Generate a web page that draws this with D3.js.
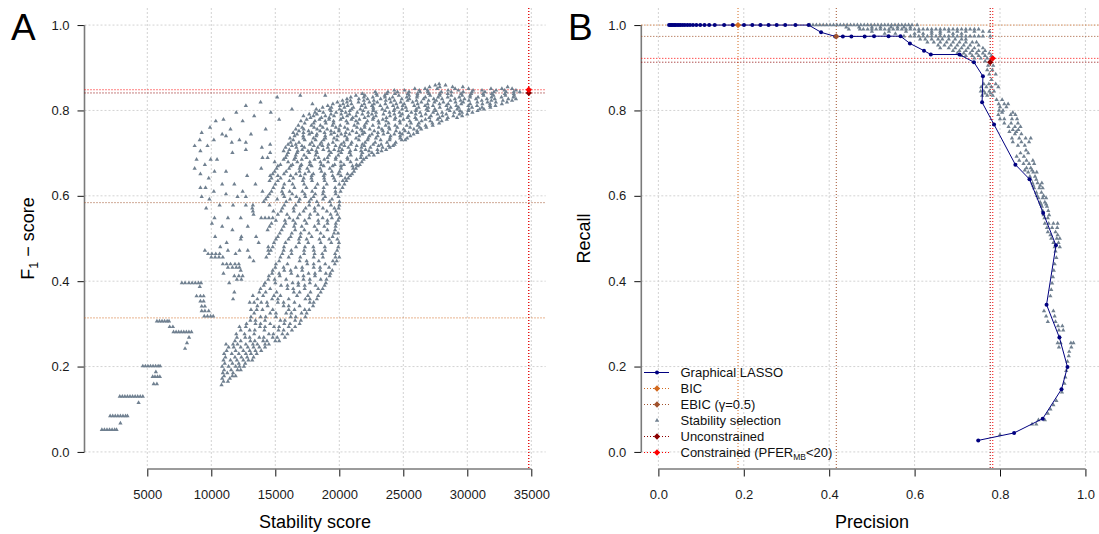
<!DOCTYPE html>
<html>
<head>
<meta charset="utf-8">
<style>
  body { margin: 0; background: #fff; }
  text { font-family: "Liberation Sans", Arial, Helvetica, sans-serif; }
</style>
</head>
<body>
<script src="https://cdn.jsdelivr.net/npm/d3@7"></script>
<script>

    var width = 1099,
        height = 534;

    // ---------- data ----------
    var scoreTicks = [5000, 10000, 15000, 20000, 25000, 30000, 35000];
    var unitTicks = [0, 0.2, 0.4, 0.6, 0.8, 1.0];

    // graphical lasso path (precision / recall)
    var lassoPrecision = [0.025, 0.028, 0.031, 0.034, 0.037, 0.040, 0.044, 0.048, 0.052, 0.057,
        0.062, 0.068, 0.074, 0.081, 0.089, 0.098, 0.108, 0.119, 0.132, 0.154,
        0.174, 0.2005, 0.220, 0.239, 0.258, 0.277, 0.297, 0.321, 0.352,
        0.381, 0.414, 0.432, 0.452, 0.483, 0.505, 0.539, 0.567,
        0.589, 0.622, 0.638, 0.705, 0.739, 0.760, 0.758, 0.786,
        0.836, 0.869, 0.901, 0.931, 0.909, 0.939, 0.958, 0.944,
        0.900, 0.833, 0.749];
    var lassoRecall = [1, 1, 1, 1, 1, 1, 1, 1, 1, 1,
        1, 1, 1, 1, 1, 1, 1, 1, 1, 1,
        1, 1, 1, 1, 1, 1, 1, 1, 1,
        0.983, 0.9735, 0.9735, 0.9735, 0.9735, 0.974, 0.974, 0.974,
        0.957, 0.940, 0.931, 0.931, 0.913, 0.880, 0.819, 0.767,
        0.673, 0.639, 0.560, 0.484, 0.345, 0.268, 0.199, 0.147,
        0.078, 0.0445, 0.027];

    // calibrated models: BIC, EBIC, unconstrained, constrained
    var calibNames = ["BIC", "EBIC", "Unconstrained", "Constrained"];
    var calibPrecision = [0.1865, 0.4166, 0.777, 0.783];
    var calibRecall = [1.0, 0.9735, 0.913, 0.922];
    var calibF1 = [0.314, 0.584, 0.841, 0.8485];
    var calibScore = [null, null, 34800, 34800];

    // stability selection models, panel A: [F1, [stability scores]]
    var stabilityA = [
        [0.052, [1450, 1650, 1850, 2050, 2250, 2450, 2600]],
        [0.067, [2900]],
        [0.084, [2100, 2300, 2500, 2700, 2900, 3100, 3300, 3450]],
        [0.115, [4320]],
        [0.130, [2850, 3050, 3250, 3450, 3650, 3850, 4050, 4250, 4450, 4650]],
        [0.157, [10800]],
        [0.159, [5500, 5750]],
        [0.165, [10950, 11300]],
        [0.172, [10850, 11450]],
        [0.176, [5420, 5600, 5800, 5980]],
        [0.178, [11000, 11650, 11900]],
        [0.185, [10900, 11250, 11700]],
        [0.187, [5670]],
        [0.192, [11000, 11550, 12050, 12300]],
        [0.200, [10850, 11350, 11900, 12200, 12550]],
        [0.201, [4650, 4850, 5050, 5250, 5450, 5650, 5850, 6000]],
        [0.207, [11050, 11650, 12150, 12650]],
        [0.215, [10950, 11500, 12000, 12500, 12900, 13200]],
        [0.222, [11100, 11850, 12350, 12800, 13300]],
        [0.230, [11000, 11600, 12150, 12700, 13100, 13550]],
        [0.237, [11200, 11900, 12500, 13000, 13450, 13900]],
        [0.242, [7950]],
        [0.245, [11350, 11750, 12300, 12850, 13300, 13750, 14200]],
        [0.252, [11150, 11700, 12050, 12700, 13250, 13600, 14200, 14500]],
        [0.255, [8100]],
        [0.260, [11850, 12300, 13050, 13400, 14050, 14350, 15000, 15300]],
        [0.268, [8260, 12000, 12650, 13000, 13750, 14100, 14800, 15150, 15750]],
        [0.276, [11950, 12600, 13350, 14500, 14850, 15550, 15950]],
        [0.281, [7050, 7250, 7450, 7650, 7850, 8050, 8250, 8450]],
        [0.285, [12300, 13000, 13400, 14150, 15250, 15650, 16300]],
        [0.293, [6750, 7000, 12200, 12700, 13800, 14200, 14900, 15300, 16050, 16550]],
        [0.300, [12750, 13450, 13850, 14600, 15700, 16150, 16900]],
        [0.306, [5750, 5950, 6150, 6350, 6550, 6700]],
        [0.308, [13050, 13450, 14200, 15400, 15750, 16550, 17000]],
        [0.316, [13100, 13850, 14250, 15050, 16200, 16600, 17350]],
        [0.318, [9450, 9700, 9950, 10150]],
        [0.325, [13350, 14600, 15050, 15850, 16250, 17050, 17450]],
        [0.330, [9250, 9500, 9800]],
        [0.333, [13100, 13550, 14000, 14800, 16050, 16500, 17300, 17650]],
        [0.341, [9250, 9500]],
        [0.342, [13600, 14400, 15650, 16050, 16900, 17950]],
        [0.350, [13000, 13350, 13900, 14350, 15200, 15650, 16500, 17700, 18000]],
        [0.353, [9150, 9400]],
        [0.358, [11700, 13600, 14750, 15200, 16050, 17350, 17700, 18250]],
        [0.365, [8850, 9150, 9400]],
        [0.366, [13250, 14050, 14900, 15400, 16700, 17550, 18350]],
        [0.374, [11800, 13750, 14250, 15100, 16450, 16900, 17750, 18550]],
        [0.382, [13850, 14600, 15950, 16400, 17300, 18350, 18700]],
        [0.387, [9100]],
        [0.390, [14100, 15450, 15950, 16800, 17300, 18150, 18850]],
        [0.396, [7700, 7950, 8250, 8500, 8750, 9000, 9200, 11400, 14200, 15000, 16350, 16800, 17700, 18950]],
        [0.404, [12000, 12350, 14450, 14950, 15850, 17200, 17700, 18550, 19000]],
        [0.412, [11800, 12150, 12450, 14500, 15350, 16750, 17200, 18100, 19250]],
        [0.418, [10950, 14750, 15300, 16250, 17600, 18100, 18950, 19300]],
        [0.425, [12300, 14800, 15700, 16200, 17100, 18500, 19450]],
        [0.432, [11300, 11650, 11950, 12200, 15000, 15650, 16600, 17100, 18000, 18500, 19200]],
        [0.440, [10900, 11200, 11500, 11850, 12150, 15050, 15950, 17500, 18000, 18900, 19650]],
        [0.447, [13300, 15300, 16900, 17450, 18400, 19500, 19800]],
        [0.456, [10000, 10300, 10600, 10900, 13000, 14300, 15400, 16050, 16950, 18000, 18720, 19700, 20000]],
        [0.464, [9750, 10050, 10350, 10650, 11900, 14500, 15550, 16270, 17250, 18070, 18670, 19670]],
        [0.472, [9500, 11300, 12200, 12850, 14450, 14650, 15650, 16250, 17250, 18010, 18890, 19830]],
        [0.480, [10700, 14450, 14800, 15680, 16620, 17320, 17970, 18870, 19920]],
        [0.490, [11200, 13700, 14900, 15800, 16850, 17570, 18550, 19370, 19970]],
        [0.498, [12300, 15050, 16030, 16850, 17450, 18450, 19210, 19850]],
        [0.504, [10300, 12350, 13500, 15200, 16200, 16960, 17840, 18780, 19480]],
        [0.512, [15350, 16290, 16990, 17640, 18540, 19590, 19900]],
        [0.520, [11650, 14400, 15500, 16550, 17270, 18250, 19070, 19670]],
        [0.528, [10850, 12850, 14550, 15650, 16470, 17070, 18070, 18830, 19710]],
        [0.535, [10050, 14700, 15800, 16560, 17440, 18380, 19080, 19730]],
        [0.542, [15050, 15750, 16400, 17300, 18350, 19070, 19900]],
        [0.548, [10250, 11300, 12300, 13900, 14200, 14500, 14800, 16100, 16750, 17650, 18700, 19420, 20000]],
        [0.556, [13300, 15200, 15920, 16900, 17720, 18320, 19320, 19850]],
        [0.564, [13250, 14850, 15450, 16450, 17210, 18090, 19030, 19730]],
        [0.571, [9600, 13200, 15550, 16430, 17370, 18070, 18720, 19620, 19950]],
        [0.578, [10650, 11700, 12700, 13250, 14550, 15700, 16600, 17650, 18370, 19350, 20000]],
        [0.586, [14100, 15850, 16830, 17650, 18250, 19250, 20010]],
        [0.592, [9850, 14250, 15150, 16150, 16910, 17790, 18730, 19430]],
        [0.598, [9250, 12050, 12700, 14400, 15700, 16640, 17340, 17990, 18890, 19940]],
        [0.604, [11150, 14550, 15600, 16320, 17300, 18120, 18720, 19720]],
        [0.610, [10200, 12450, 14000, 14700, 15520, 16120, 17120, 17880, 18760, 19700, 20100]],
        [0.619, [9150, 9550, 14850, 15610, 16490, 17430, 18130, 18780, 19680, 20250]],
        [0.627, [10850, 11800, 13450, 15000, 15700, 16350, 17250, 18300, 19020, 20000, 20400]],
        [0.635, [14550, 15200, 16100, 17150, 17870, 18850, 19670, 20270, 20550]],
        [0.641, [9800, 14700, 15420, 16400, 17220, 17820, 18820, 19580, 20460, 20700]],
        [0.647, [12800, 14600, 15200, 16200, 16960, 17840, 18780, 19480, 20130, 20850]],
        [0.651, [9150, 14800, 15680, 16620, 17320, 17970, 18870, 19920, 20640, 21000]],
        [0.657, [10250, 11150, 14950, 15850, 16900, 17620, 18600, 19420, 20020, 21150]],
        [0.664, [8700, 13900, 15100, 16080, 16900, 17500, 18500, 19260, 20140, 21080, 21300]],
        [0.670, [15200, 16200, 16960, 17840, 18780, 19480, 20130, 21030, 21450]],
        [0.673, [9500, 15400, 16340, 17040, 17690, 18590, 19640, 20360, 21340, 21600]],
        [0.679, [14950, 16000, 16720, 17700, 18520, 19120, 20120, 20880, 21760]],
        [0.685, [8850, 9950, 10450, 15650, 16470, 17070, 18070, 18830, 19710, 20650, 21350, 21900]],
        [0.689, [14000, 14400, 15800, 16560, 17440, 18380, 19080, 19730, 20630, 21680, 22100]],
        [0.695, [15900, 16600, 17250, 18150, 19200, 19920, 20900, 21720, 22320, 22700]],
        [0.701, [11650, 14600, 16000, 16700, 17650, 18250, 19350, 20150, 20800, 21800, 22550, 23000]],
        [0.705, [9150, 15650, 16750, 17550, 18200, 19200, 19950, 20850, 21700, 22320, 23300]],
        [0.708, [12700, 16100, 17100, 17850, 18750, 19600, 20220, 21270, 22050, 22980, 23660]],
        [0.713, [13950, 15800, 16650, 17270, 18320, 19100, 20030, 20710, 21730, 22430, 23380, 23950]],
        [0.717, [8700, 9700, 16300, 17080, 18010, 18690, 19710, 20410, 21360, 21960, 23060, 23860, 24200]],
        [0.720, [14600, 16000, 16600, 17700, 18500, 19150, 20150, 20900, 21800, 22650, 23270, 24320]],
        [0.725, [11600, 12700, 16200, 16850, 17850, 18600, 19500, 20350, 20970, 22020, 22800, 23730, 24410]],
        [0.731, [9100, 10200, 12200, 16400, 17300, 18150, 18770, 19820, 20600, 21530, 22210, 23230, 23930, 24880, 25150]],
        [0.735, [16150, 17200, 17980, 18910, 19590, 20610, 21310, 22260, 22860, 23960, 24760, 25300]],
        [0.740, [11150, 16500, 17180, 18200, 18900, 19850, 20450, 21550, 22350, 23000, 24000, 24750, 25550]],
        [0.744, [10850, 13100, 16700, 17650, 18250, 19350, 20150, 20800, 21800, 22550, 23450, 24300, 24920, 25800]],
        [0.748, [9250, 16400, 17200, 17850, 18850, 19600, 20500, 21350, 21970, 23020, 23800, 24730, 25410, 26100]],
        [0.752, [16850, 17600, 18500, 19350, 19970, 21020, 21800, 22730, 23410, 24430, 25130, 26080]],
        [0.756, [11500, 14250, 16600, 17220, 18270, 19050, 19980, 20660, 21680, 22380, 23330, 23930, 25030, 25830, 26400]],
        [0.760, [9900, 17100, 18030, 18710, 19730, 20430, 21380, 21980, 23080, 23880, 24530, 25530, 26280, 26800]],
        [0.765, [16800, 17820, 18520, 19470, 20070, 21170, 21970, 22620, 23620, 24370, 25270, 26120, 26740, 27300]],
        [0.770, [17300, 18000, 18950, 19550, 20650, 21450, 22100, 23100, 23850, 24750, 25600, 26220, 27270, 27800]],
        [0.775, [10350, 12450, 17000, 18100, 18900, 19550, 20550, 21300, 22200, 23050, 23670, 24720, 25500, 26430, 27110, 28000]],
        [0.779, [10950, 15300, 17450, 18450, 19200, 20100, 20950, 21570, 22620, 23400, 24330, 25010, 26030, 26730, 27680, 28400]],
        [0.783, [17750, 18600, 19220, 20270, 21050, 21980, 22660, 23680, 24380, 25330, 25930, 27030, 27830, 28480, 29200]],
        [0.787, [13350, 17200, 17980, 18910, 19590, 20610, 21310, 22260, 22860, 23960, 24760, 25410, 26410, 27160, 28060, 28910, 29600]],
        [0.791, [17650, 18250, 19350, 20150, 20800, 21800, 22550, 23450, 24300, 24920, 25970, 26750, 27680, 28360, 29380, 30000]],
        [0.795, [11950, 14650, 18100, 18750, 19750, 20500, 21400, 22250, 22870, 23920, 24700, 25630, 26310, 27330, 28030, 28980, 29580, 30400]],
        [0.799, [18450, 19350, 20200, 20820, 21870, 22650, 23580, 24260, 25280, 25980, 26930, 27530, 28630, 29430, 30080, 30800]],
        [0.803, [16300, 18200, 19250, 20030, 20960, 21640, 22660, 23360, 24310, 24910, 26010, 26810, 27460, 28460, 29210, 30110, 30960, 31300]],
        [0.807, [18700, 19380, 20400, 21100, 22050, 22650, 23750, 24550, 25200, 26200, 26950, 27850, 28700, 29320, 30370, 31150, 31800]],
        [0.811, [12700, 19100, 20050, 20650, 21750, 22550, 23200, 24200, 24950, 25850, 26700, 27320, 28370, 29150, 30080, 30760, 31780, 32200]],
        [0.815, [17900, 19500, 20300, 20950, 21950, 22700, 23600, 24450, 25070, 26120, 26900, 27830, 28510, 29530, 30230, 31180, 31780, 32700]],
        [0.819, [13850, 19850, 20600, 21500, 22350, 22970, 24020, 24800, 25730, 26410, 27430, 28130, 29080, 29680, 30780, 31580, 32230, 33100]],
        [0.823, [20250, 20870, 21920, 22700, 23630, 24310, 25330, 26030, 26980, 27580, 28680, 29480, 30130, 31130, 31880, 32780, 33500]],
        [0.827, [20600, 21530, 22210, 23230, 23930, 24880, 25480, 26580, 27380, 28030, 29030, 29780, 30680, 31530, 32150, 33200, 33800]],
        [0.831, [15150, 20900, 21920, 22620, 23570, 24170, 25270, 26070, 26720, 27720, 28470, 29370, 30220, 30840, 31890, 32670, 33600]],
        [0.835, [16950, 18900, 21300, 22000, 22950, 23550, 24650, 25450, 26100, 27100, 27850, 28750, 29600, 30220, 31270, 32050, 32980, 33660]],
        [0.839, [21800, 22900, 23700, 24350, 25350, 26100, 27000, 27850, 28470, 29520, 30300, 31230, 31910, 32930, 33630]],
        [0.843, [22800, 23800, 24550, 25450, 26300, 26920, 27970, 28750, 29680, 30360, 31380, 32080, 33030, 33630, 34100]],
        [0.847, [24300, 25100, 26250, 26900, 28500, 29300, 30450, 31150, 32250, 32900, 33800]],
        [0.851, [25900, 26700, 27650, 29050, 30100, 31850, 32700, 33500]],
        [0.855, [27050, 27850, 28850, 29650, 33150]],
        [0.859, [27500, 28300]],
        [0.862, [27800]]
    ];

    // stability selection models, panel B: [recall, [precisions]]
    var stabilityB = [
        [1.000, [0.355, 0.362, 0.370, 0.378, 0.386, 0.394, 0.402, 0.410, 0.418, 0.426, 0.434, 0.442, 0.450, 0.458, 0.466, 0.474, 0.482, 0.490, 0.498, 0.506, 0.514, 0.522, 0.530, 0.538, 0.546, 0.554, 0.562, 0.570, 0.578, 0.586, 0.594, 0.606]],
        [0.995, [0.440, 0.470, 0.500, 0.520, 0.545, 0.560, 0.575, 0.590]],
        [0.990, [0.446, 0.472, 0.480, 0.490, 0.500, 0.510, 0.520, 0.530, 0.540, 0.550, 0.560, 0.570, 0.580, 0.590, 0.600, 0.610, 0.620, 0.630, 0.640, 0.650, 0.660, 0.670, 0.680, 0.690, 0.700, 0.710, 0.720, 0.730, 0.740, 0.750]],
        [0.985, [0.500, 0.540, 0.580, 0.610, 0.640, 0.660, 0.680, 0.700, 0.720, 0.740, 0.760, 0.775]],
        [0.980, [0.530, 0.555, 0.600, 0.620, 0.640, 0.660, 0.690, 0.710]],
        [0.974, [0.575, 0.590, 0.600, 0.610, 0.620, 0.630, 0.640, 0.650, 0.660, 0.670, 0.680, 0.690, 0.700, 0.710, 0.720, 0.730, 0.740, 0.750, 0.760, 0.777]],
        [0.967, [0.613, 0.625, 0.640, 0.655, 0.665, 0.680, 0.695, 0.710, 0.720]],
        [0.960, [0.630, 0.645, 0.660, 0.675, 0.690, 0.705, 0.720, 0.735, 0.745]],
        [0.953, [0.655, 0.670, 0.685, 0.700, 0.715, 0.730, 0.750]],
        [0.946, [0.660, 0.680, 0.695, 0.710, 0.725, 0.740, 0.760]],
        [0.940, [0.690, 0.705, 0.720, 0.735, 0.750, 0.765]],
        [0.934, [0.700, 0.715, 0.730, 0.745, 0.760, 0.775]],
        [0.928, [0.710, 0.720, 0.735, 0.750, 0.765, 0.780]],
        [0.922, [0.740, 0.755, 0.770]],
        [0.915, [0.765, 0.777]],
        [0.905, [0.772, 0.784]],
        [0.895, [0.770, 0.782]],
        [0.885, [0.775, 0.790]],
        [0.872, [0.780]],
        [0.862, [0.762, 0.774, 0.790]],
        [0.855, [0.756, 0.768, 0.780, 0.796]],
        [0.845, [0.755, 0.762, 0.775, 0.786]],
        [0.840, [0.765, 0.778]],
        [0.835, [0.758, 0.770, 0.783]],
        [0.825, [0.792, 0.805]],
        [0.815, [0.797, 0.810, 0.819]],
        [0.808, [0.800, 0.815]],
        [0.800, [0.798, 0.807]],
        [0.795, [0.805, 0.830]],
        [0.790, [0.796, 0.825, 0.836]],
        [0.780, [0.800, 0.810, 0.828, 0.840]],
        [0.770, [0.810, 0.826, 0.842]],
        [0.762, [0.820, 0.835, 0.848]],
        [0.755, [0.830, 0.843]],
        [0.750, [0.822, 0.838]],
        [0.745, [0.835, 0.850]],
        [0.735, [0.828, 0.845, 0.860, 0.872]],
        [0.726, [0.830, 0.850, 0.868]],
        [0.718, [0.842, 0.858]],
        [0.707, [0.861]],
        [0.700, [0.848, 0.866]],
        [0.692, [0.839, 0.856]],
        [0.683, [0.845, 0.862, 0.877]],
        [0.675, [0.855, 0.868, 0.880]],
        [0.665, [0.862, 0.872]],
        [0.660, [0.858, 0.875]],
        [0.655, [0.866, 0.878, 0.886]],
        [0.645, [0.870, 0.882]],
        [0.638, [0.872, 0.885]],
        [0.630, [0.876, 0.888, 0.898]],
        [0.624, [0.878, 0.894]],
        [0.618, [0.880, 0.892, 0.900]],
        [0.608, [0.885, 0.897]],
        [0.600, [0.887, 0.902]],
        [0.595, [0.890, 0.900, 0.908]],
        [0.585, [0.894, 0.905]],
        [0.580, [0.896, 0.908]],
        [0.575, [0.898, 0.910]],
        [0.565, [0.900, 0.913]],
        [0.555, [0.902, 0.915]],
        [0.548, [0.904, 0.912]],
        [0.535, [0.905, 0.914, 0.925, 0.935]],
        [0.525, [0.910, 0.922, 0.934]],
        [0.515, [0.912, 0.930]],
        [0.508, [0.918, 0.935]],
        [0.500, [0.920, 0.933, 0.940]],
        [0.490, [0.925, 0.937]],
        [0.480, [0.928, 0.940]],
        [0.470, [0.930]],
        [0.455, [0.932]],
        [0.440, [0.928]],
        [0.425, [0.926]],
        [0.410, [0.924]],
        [0.395, [0.922]],
        [0.380, [0.920]],
        [0.365, [0.918]],
        [0.330, [0.903, 0.925]],
        [0.318, [0.908, 0.928]],
        [0.305, [0.912, 0.930]],
        [0.295, [0.936, 0.946]],
        [0.285, [0.938, 0.948]],
        [0.270, [0.940]],
        [0.255, [0.935, 0.942, 0.966, 0.972]],
        [0.245, [0.938, 0.967]],
        [0.235, [0.962]],
        [0.225, [0.961]],
        [0.212, [0.958]],
        [0.190, [0.955]],
        [0.175, [0.953]],
        [0.160, [0.951]],
        [0.140, [0.945]],
        [0.120, [0.932]],
        [0.110, [0.925]],
        [0.100, [0.918]],
        [0.090, [0.912]],
        [0.075, [0.890, 0.905]],
        [0.065, [0.875, 0.885]],
        [0.040, [0.800]]
    ];

    var legendLabels = ["Graphical LASSO", "BIC", "EBIC (\u03b3=0.5)", "Stability selection", "Unconstrained", "Constrained (PFER"];

    // ---------- style ----------
    var calibColors = ["#D2691E", "#A0522D", "#8B0000", "#FF0000"];
    var triColor = "#708090",
        lassoColor = "#000080",
        gridColor = "#d3d3d3",
        axisColor = "#7a7a7a";

    var svg = d3.select("body").append("svg").attr("width", width).attr("height", height);

    var plotTop = 8, plotBottom = 469;
    var y = d3.scaleLinear().domain([-0.04, 1.04]).range([plotBottom, plotTop]);
    var xA = d3.scaleLinear().domain([94, 36125]).range([84.5, 545.7]);
    var xB = d3.scaleLinear().domain([-0.04, 1.04]).range([641.3, 1102.5]);

    var tri = d3.symbol().type(d3.symbolTriangle).size(8);
    var diamond = d3.symbol().type(d3.symbolSquare).size(20);

    function flatten(rows) {
        var out = [];
        rows.forEach(function (r) {
            r[1].forEach(function (v) { out.push({v: r[0], u: v}); });
        });
        return out;
    }

    function frame(x, xTicks, fmt) {
        var g = svg.append("g");
        var x0 = x.range()[0], x1 = x.range()[1];
        // grid
        g.selectAll(".gx").data(xTicks).enter().append("line")
            .attr("x1", x).attr("x2", x).attr("y1", plotTop).attr("y2", plotBottom)
            .attr("stroke", gridColor).attr("stroke-dasharray", "2,2");
        g.selectAll(".gy").data(unitTicks).enter().append("line")
            .attr("x1", x0).attr("x2", x1).attr("y1", y).attr("y2", y)
            .attr("stroke", gridColor).attr("stroke-dasharray", "2,2");

        var ax = svg.append("g").attr("transform", "translate(" + x0 + ",0)")
            .call(d3.axisLeft(y).tickValues(unitTicks).tickFormat(d3.format(".1f")).tickSize(7).tickPadding(8));
        ax.select(".domain").remove();
        ax.append("line").attr("y1", y(0)).attr("y2", y(1)).attr("stroke", axisColor).attr("stroke-width", 1.6);
        ax.selectAll(".tick line").attr("stroke", "#111");
        ax.selectAll("text").attr("font-size", 13).attr("fill", "#1a1a1a")
            .attr("font-family", "Liberation Sans, Arial, sans-serif");

        var bx = svg.append("g").attr("transform", "translate(0," + plotBottom + ")")
            .call(d3.axisBottom(x).tickValues(xTicks).tickFormat(fmt).tickSize(7.5).tickPadding(13));
        bx.select(".domain").remove();
        bx.append("line").attr("x1", x(xTicks[0])).attr("x2", x(xTicks[xTicks.length - 1]))
            .attr("stroke", axisColor).attr("stroke-width", 1.6);
        bx.selectAll(".tick line").attr("stroke", "#111");
        bx.selectAll("text").attr("font-size", 13).attr("fill", "#1a1a1a")
            .attr("font-family", "Liberation Sans, Arial, sans-serif");
    }

    function refLine(x1, x2, y1, y2, col) {
        svg.append("line").attr("x1", x1).attr("x2", x2).attr("y1", y1).attr("y2", y2)
            .attr("stroke", col).attr("stroke-dasharray", "1,2");
    }

    // ---------- panel A ----------
    frame(xA, scoreTicks, d3.format("d"));

    calibF1.forEach(function (f, i) {
        refLine(xA.range()[0], xA.range()[1], y(f), y(f), calibColors[i]);
    });
    calibScore.forEach(function (s, i) {
        if (s !== null) refLine(xA(s), xA(s), plotTop, plotBottom, calibColors[i]);
    });

    svg.append("g").selectAll("path").data(flatten(stabilityA)).enter().append("path")
        .attr("d", tri)
        .attr("transform", function (d) { return "translate(" + xA(d.u) + "," + y(d.v) + ")"; })
        .attr("fill", triColor);

    [2, 3].forEach(function (i) {
        svg.append("path").attr("d", diamond)
            .attr("transform", "translate(" + xA(calibScore[i]) + "," + y(calibF1[i]) + ") rotate(45)")
            .attr("fill", calibColors[i]);
    });

    // ---------- panel B ----------
    frame(xB, unitTicks, d3.format(".1f"));

    calibPrecision.forEach(function (p, i) {
        refLine(xB(p), xB(p), plotTop, plotBottom, calibColors[i]);
        refLine(xB.range()[0], xB.range()[1], y(calibRecall[i]), y(calibRecall[i]), calibColors[i]);
    });

    svg.append("g").selectAll("path").data(flatten(stabilityB)).enter().append("path")
        .attr("d", tri)
        .attr("transform", function (d) { return "translate(" + xB(d.u) + "," + y(d.v) + ")"; })
        .attr("fill", triColor);

    var lasso = lassoPrecision.map(function (p, i) { return [p, lassoRecall[i]]; });
    svg.append("path").datum(lasso)
        .attr("d", d3.line().x(function (d) { return xB(d[0]); }).y(function (d) { return y(d[1]); }))
        .attr("fill", "none").attr("stroke", lassoColor).attr("stroke-width", 1);
    svg.append("g").selectAll("circle").data(lasso).enter().append("circle")
        .attr("cx", function (d) { return xB(d[0]); })
        .attr("cy", function (d) { return y(d[1]); })
        .attr("r", 2).attr("fill", lassoColor);

    calibPrecision.forEach(function (p, i) {
        svg.append("path").attr("d", diamond)
            .attr("transform", "translate(" + xB(p) + "," + y(calibRecall[i]) + ") rotate(45)")
            .attr("fill", calibColors[i]);
    });

    // legend
    var lg = svg.append("g").attr("transform", "translate(657,372.5)");
    legendLabels.forEach(function (lab, i) {
        var row = lg.append("g").attr("transform", "translate(0," + (i * 16) + ")");
        if (i === 0) {
            row.append("line").attr("x1", -13).attr("x2", 12).attr("stroke", lassoColor);
            row.append("circle").attr("r", 2).attr("fill", lassoColor);
        } else if (i === 3) {
            row.append("path").attr("d", tri).attr("fill", triColor);
        } else {
            var c = calibColors[i === 1 ? 0 : i === 2 ? 1 : i === 4 ? 2 : 3];
            row.append("line").attr("x1", -13).attr("x2", 12).attr("stroke", c).attr("stroke-dasharray", "1,2");
            row.append("path").attr("d", diamond).attr("transform", "rotate(45)").attr("fill", c);
        }
        var t = row.append("text").attr("x", 23.5).attr("y", 4.6).attr("font-size", 13).attr("fill", "#111").text(lab);
        if (i === 5) {
            t.append("tspan").attr("font-size", 8.5).attr("dy", 3).text("MB");
            t.append("tspan").attr("font-size", 13).attr("dy", -3).text("<20)");
        }
    });

    // titles
    svg.append("text").attr("x", 315).attr("y", 528).attr("text-anchor", "middle")
        .attr("font-size", 18).text("Stability score");
    svg.append("text").attr("x", 872).attr("y", 528).attr("text-anchor", "middle")
        .attr("font-size", 18).text("Precision");

    var f1t = svg.append("text").attr("transform", "translate(34,238.5) rotate(-90)")
        .attr("text-anchor", "middle").attr("font-size", 18);
    f1t.append("tspan").text("F");
    f1t.append("tspan").attr("font-size", 12.5).attr("dy", 4).text("1");
    f1t.append("tspan").attr("dy", -4).text(" \u2212 score");

    svg.append("text").attr("transform", "translate(590,238.5) rotate(-90)")
        .attr("text-anchor", "middle").attr("font-size", 18).text("Recall");

    svg.append("text").attr("x", 11).attr("y", 39.5).attr("font-size", 37).text("A");
    svg.append("text").attr("x", 568).attr("y", 39.5).attr("font-size", 37).text("B");

</script>
</body>
</html>
